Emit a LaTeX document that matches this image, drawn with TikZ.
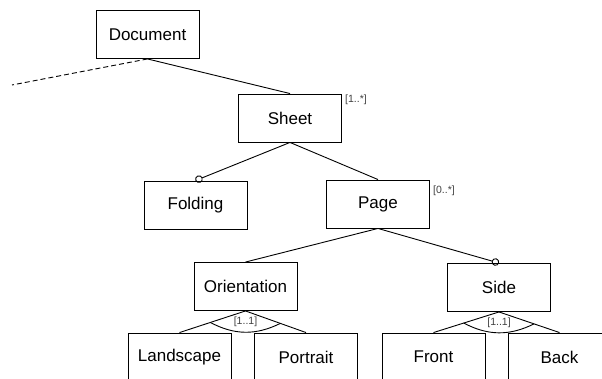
\documentclass[tikz,border=0pt]{standalone}
\usepackage{fontspec}
\setmainfont{Liberation Sans}
\usetikzlibrary{arrows.meta, calc}
\tikzstyle{box} = [rectangle, minimum width=103pt, minimum height=48pt, draw=black, line width=0.9pt, font=\fontsize{17}{20}\selectfont]
\tikzstyle{card} = [font=\fontsize{10.5}{12}\selectfont, text=darkgray, inner sep=0pt]
\tikzstyle{link} = [line width=0.9pt]
\tikzstyle{opt} = [line width=0.9pt, -{Circle[open, length=7.5pt, width=7.5pt]}]
\tikzstyle{alt} = [line width=0.9pt, bend right=27]

\begin{document}
\begin{tikzpicture}[x=1pt, y=-1pt, node distance=126.5pt]
\useasboundingbox (0,0) rectangle (602,379);
\clip (0,0) rectangle (602,379);

%% NODES

\node (doc) [box] at (147.5,34.5) {Document};
\node (sheet) [box] at (290,118) {Sheet};
\node (fold) [box] at (195.5,205) {Folding};
\node (page) [box] at (378,204) {Page};
\node (orient) [box] at (245.5,286.5) {Orientation};
\node (side) [box] at (499,287.5) {Side};
\node (land) [box] at (179.5,357) {Landscape};
\node (port) [box, right of=land] {Portrait};
\node (front) [box, right of=port, node distance=127.5pt] {Front};
\node (back) [box, right of=front, node distance=126pt] {Back};
\coordinate (lost) at (12,85);

\node (sheet_card) [card, anchor=west] at (345,100) {[1..*]};
\node (page_card) [card, anchor=west] at (433,191) {[0..*]};
\node (orient_card) [card] at ($(orient.south)+(0,11)$) {[1..1]};
\node (side_card) [card] at ($(side.south)+(0,11)$) {[1..1]};

%% ARROWS

\draw [link, dashed, dash pattern=on 5pt off 3pt] (doc.south) -- (lost);
\draw [link] (doc.south) -- (sheet.north);
\draw [opt] (sheet.south) -- (fold.north);
\draw [link] (sheet.south) -- (page.north);
\draw [link] (page.south) -- (orient.north);
\draw [opt] (page.south) -- (side.north);
\draw [link] (orient.south) -- (land.north);
\draw [link] (orient.south) -- (port.north);
\draw [link] (side.south) -- (front.north);
\draw [link] (side.south) -- (back.north);
\draw [alt] ($(orient.south)!37pt!(land.north)$) to ($(orient.south)!37pt!(port.north)$);
\draw [alt] ($(side.south)!37pt!(front.north)$) to ($(side.south)!37pt!(back.north)$);
\end{tikzpicture}
\end{document}
